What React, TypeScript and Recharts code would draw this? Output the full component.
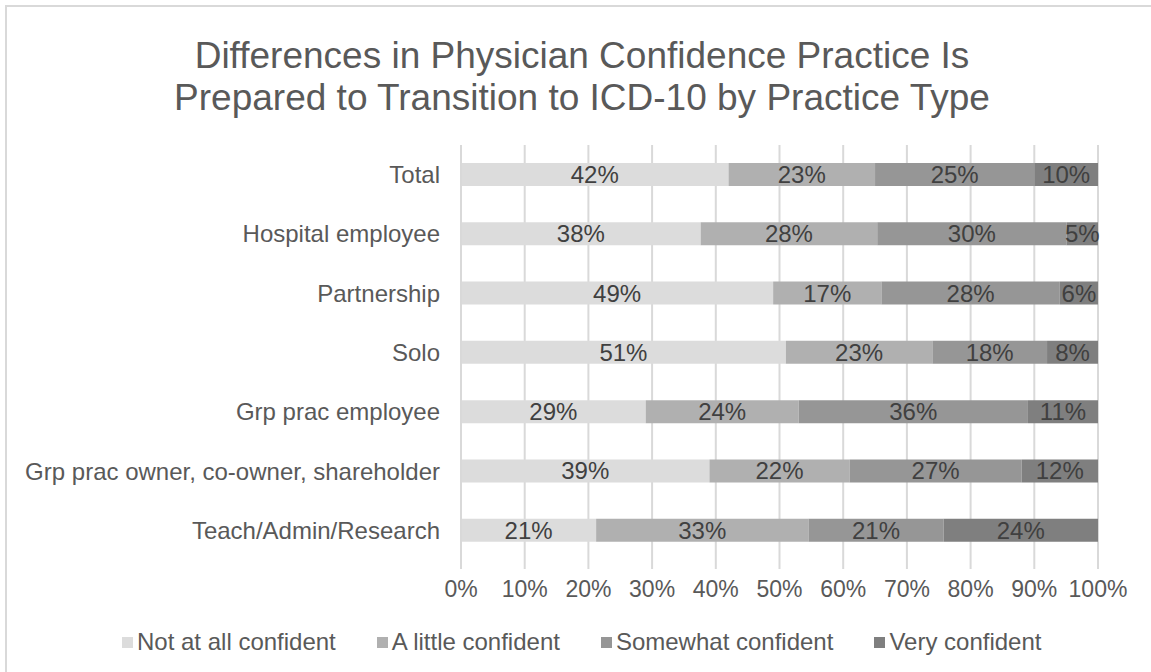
import { BarChart, Bar, XAxis, YAxis, CartesianGrid, LabelList } from 'recharts';

const categories = [
  'Total',
  'Hospital employee',
  'Partnership',
  'Solo',
  'Grp prac employee',
  'Grp prac owner, co-owner, shareholder',
  'Teach/Admin/Research',
];
const notAtAll = [42, 38, 49, 51, 29, 39, 21];
const aLittle = [23, 28, 17, 23, 24, 22, 33];
const somewhat = [25, 30, 28, 18, 36, 27, 21];
const very = [10, 5, 6, 8, 11, 12, 24];
const xTicks = [0, 0.1, 0.2, 0.3, 0.4, 0.5, 0.6, 0.7, 0.8, 0.9, 1];

const series = [
  { key: 'notAtAll', name: 'Not at all confident', color: '#dcdcdc' },
  { key: 'aLittle', name: 'A little confident', color: '#b0b0b0' },
  { key: 'somewhat', name: 'Somewhat confident', color: '#969696' },
  { key: 'very', name: 'Very confident', color: '#7f7f7f' },
];

const data = categories.map((name, i) => ({
  name,
  notAtAll: notAtAll[i],
  aLittle: aLittle[i],
  somewhat: somewhat[i],
  very: very[i],
}));

const FONT = '"Liberation Sans", Arial, sans-serif';
const TEXT = '#595959';

export default function App() {
  return (
    <div
      style={{
        position: 'fixed',
        left: 0,
        top: 0,
        width: 1151,
        height: 672,
        overflow: 'hidden',
        fontFamily: FONT,
        background: '#fff',
      }}
    >
      <div
        style={{
          position: 'absolute',
          left: 5,
          top: 5,
          width: 1200,
          height: 700,
          border: '2px solid #d9d9d9',
        }}
      >
        <div
          style={{
            position: 'absolute',
            top: 28,
            left: 0,
            width: 1150,
            textAlign: 'center',
            fontSize: 37,
            lineHeight: '42px',
            color: TEXT,
          }}
        >
          Differences in Physician Confidence Practice Is
          <br />
          Prepared to Transition to ICD-10 by Practice Type
        </div>
        <BarChart
          width={1150}
          height={670}
          data={data}
          layout="vertical"
          stackOffset="expand"
          barSize={23}
          margin={{ top: 138, right: 59, bottom: 77, left: 0 }}
        >
          <CartesianGrid horizontal={false} stroke="#d9d9d9" strokeWidth={2} />
          <XAxis
            type="number"
            domain={[0, 1]}
            ticks={xTicks}
            tickFormatter={(v: number) => `${Math.round(v * 100)}%`}
            axisLine={false}
            tickLine={{ stroke: '#d9d9d9', strokeWidth: 2 }}
            tickSize={9}
            height={40}
            tick={{ fill: TEXT, fontSize: 23, fontFamily: FONT, dy: 10 }}
          />
          <YAxis
            type="category"
            dataKey="name"
            width={454}
            axisLine={{ stroke: '#d9d9d9', strokeWidth: 2 }}
            tickLine={false}
            tick={{ fill: TEXT, fontSize: 24, fontFamily: FONT, dx: -13 }}
          />
          {series.map((s) => (
            <Bar key={s.key} dataKey={s.key} name={s.name} stackId="a" fill={s.color} isAnimationActive={false}>
              <LabelList
                dataKey={s.key}
                position="center"
                formatter={(v: number) => `${v}%`}
                fill="#404040"
                fontSize={24}
                fontFamily={FONT}
              />
            </Bar>
          ))}
        </BarChart>
        <div
          style={{
            position: 'absolute',
            top: 621,
            left: 115,
            display: 'flex',
            gap: 41,
            fontSize: 24,
            color: TEXT,
            lineHeight: '28px',
            whiteSpace: 'nowrap',
          }}
        >
          {series.map((s) => (
            <div key={s.key} style={{ display: 'flex', alignItems: 'center' }}>
              <span style={{ width: 11, height: 11, background: s.color, marginRight: 4, display: 'inline-block' }} />
              {s.name}
            </div>
          ))}
        </div>
      </div>
    </div>
  );
}
